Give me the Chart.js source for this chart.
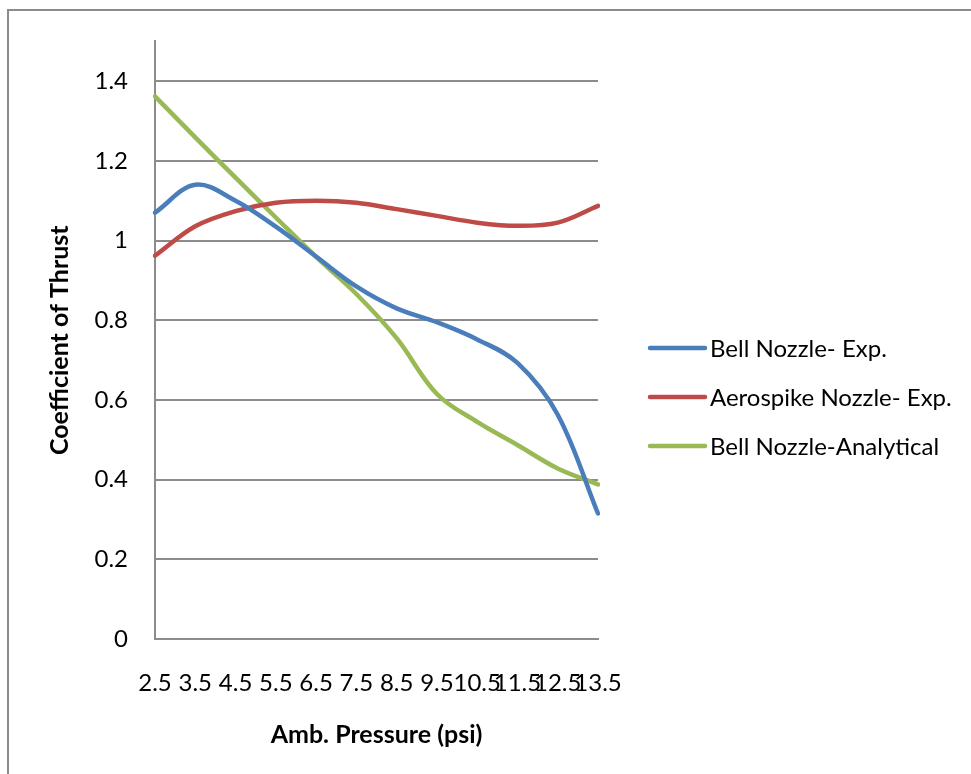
<!DOCTYPE html>
<html>
<head>
<meta charset="utf-8">
<script src="https://cdn.jsdelivr.net/npm/chart.js@4.4.1/dist/chart.umd.min.js"></script>
<style>
  html, body { margin: 0; padding: 0; background: #fff; overflow: hidden; }
  #frame { position: absolute; left: 7px; top: 9px; width: 1100px; height: 900px;
           border: 2px solid #8c8c8c; box-sizing: border-box; }
  #c { position: absolute; left: 0; top: 0; }
</style>
</head>
<body>
<div id="frame"></div>
<canvas id="c" width="971" height="774"></canvas>
<script>
// Ambient pressure (psi) categories
const pressures = ['2.5', '3.5', '4.5', '5.5', '6.5', '7.5', '8.5', '9.5', '10.5', '11.5', '12.5', '13.5'];

// Coefficient of thrust per series
const bellExp        = [1.07, 1.14, 1.10, 1.035, 0.96, 0.885, 0.83, 0.795, 0.752, 0.693, 0.563, 0.315];
const aerospikeExp   = [0.962, 1.036, 1.074, 1.095, 1.100, 1.095, 1.079, 1.062, 1.045, 1.037, 1.045, 1.087];
const bellAnalytical = [1.362, 1.259, 1.158, 1.058, 0.959, 0.866, 0.755, 0.615, 0.545, 0.487, 0.428, 0.388];

// Y axis ticks
const yTicks = [0, 0.2, 0.4, 0.6, 0.8, 1, 1.2, 1.4];

const FONT = "Lato, 'Open Sans', 'DejaVu Sans', sans-serif";
const AXIS_GREY = '#8c8c8c';

// Legend drawn beside the plot, one line sample + label per series
const sideLegend = {
  id: 'sideLegend',
  afterDraw(chart) {
    const ctx = chart.ctx;
    const lineX0 = 650, lineX1 = 705, textX = 710;
    const firstY = 348, gap = 49;
    ctx.save();
    ctx.font = '24px ' + FONT;
    ctx.textBaseline = 'middle';
    ctx.textAlign = 'left';
    chart.data.datasets.forEach((ds, i) => {
      const y = firstY + i * gap;
      ctx.strokeStyle = ds.borderColor;
      ctx.lineWidth = 4.5;
      ctx.lineCap = 'round';
      ctx.beginPath();
      ctx.moveTo(lineX0, y);
      ctx.lineTo(lineX1, y);
      ctx.stroke();
      ctx.fillStyle = '#000';
      ctx.fillText(ds.label, textX, y + 1);
    });
    ctx.restore();
  }
};

const lineStyle = {
  borderWidth: 4.5,
  pointRadius: 0,
  pointHoverRadius: 0,
  tension: 0.36,
  fill: false,
  borderCapStyle: 'round',
  borderJoinStyle: 'round'
};

new Chart(document.getElementById('c'), {
  type: 'line',
  data: {
    labels: pressures,
    datasets: [
      Object.assign({ label: 'Bell Nozzle- Exp.', data: bellExp, borderColor: '#4a7ebb' }, lineStyle),
      Object.assign({ label: 'Aerospike Nozzle- Exp.', data: aerospikeExp, borderColor: '#be4b48' }, lineStyle),
      Object.assign({ label: 'Bell Nozzle-Analytical', data: bellAnalytical, borderColor: '#98b954' }, lineStyle)
    ]
  },
  options: {
    responsive: false,
    animation: false,
    devicePixelRatio: 1,
    layout: { padding: { left: 40, right: 373, top: 40, bottom: 0 } },
    plugins: {
      legend: { display: false },
      tooltip: { enabled: false }
    },
    scales: {
      x: {
        type: 'category',
        offset: false,
        grid: { display: false, drawTicks: false },
        border: { color: AXIS_GREY, width: 2 },
        ticks: {
          autoSkip: false, maxRotation: 0, minRotation: 0,
          padding: 30, color: '#000', font: { family: FONT, size: 24 }
        },
        title: {
          display: true, text: 'Amb. Pressure (psi)', color: '#000',
          font: { family: FONT, size: 25, weight: 'bold' },
          padding: { top: 0, bottom: 24 }
        },
        afterFit: s => { s.height = 135; }
      },
      y: {
        min: 0,
        max: 1.5,
        bounds: 'data',
        afterBuildTicks: s => { s.ticks = yTicks.map(v => ({ value: v })); },
        grid: { color: AXIS_GREY, lineWidth: 2, drawTicks: false },
        border: { color: AXIS_GREY, width: 2 },
        ticks: {
          padding: 27, color: '#000', font: { family: FONT, size: 24 },
          callback: v => String(Number(v.toFixed(1)))
        },
        title: {
          display: true, text: 'Coefficient of Thrust', color: '#000',
          font: { family: FONT, size: 25, weight: 'bold' },
          padding: { top: 5, bottom: 0 }
        },
        afterFit: s => { s.width = 115; }
      }
    }
  },
  plugins: [sideLegend]
});
</script>
</body>
</html>
